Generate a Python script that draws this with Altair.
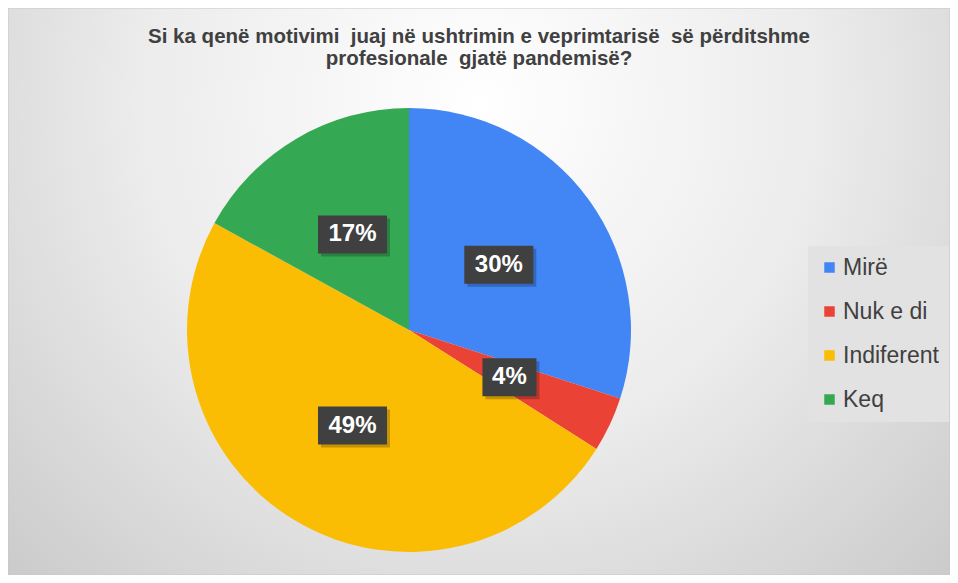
import altair as alt
import pandas as pd

categories = ["Mirë", "Nuk e di", "Indiferent", "Keq"]
values = [30, 4, 49, 17]
labels = ["30%", "4%", "49%", "17%"]
colors = ["#4285F4", "#EA4335", "#FBBC04", "#34A853"]

title_lines = [
    "Si ka qenë motivimi\u00a0 juaj në ushtrimin e veprimtarisë\u00a0 së përditshme",
    "profesionale\u00a0 gjatë pandemisë?",
]

df = pd.DataFrame({
    "cat": categories,
    "value": values,
    "label": labels,
    "order": list(range(len(categories))),
})

W, H = 942, 567
CX, CY, R, LR = 401, 322, 222, 111

bg = alt.Chart(alt.Data(values=[{}])).mark_rect(
    fill=alt.RadialGradient(
        gradient="radial",
        stops=[
            alt.GradientStop(offset=0, color="#ffffff"),
            alt.GradientStop(offset=0.45, color="#ececec"),
            alt.GradientStop(offset=1, color="#c2c2c2"),
        ],
        x1=0.5, y1=0.3, r1=0, x2=0.5, y2=0.3, r2=0.8,
    ),
    stroke="#c8c8c8",
    strokeWidth=1,
).encode(x=alt.value(0), x2=alt.value(W), y=alt.value(0), y2=alt.value(H))

arcs = alt.Chart(df).mark_arc(radius=R).encode(
    theta=alt.Theta("value:Q", stack=True),
    color=alt.Color(
        "cat:N",
        scale=alt.Scale(domain=categories, range=colors),
        sort=categories,
        legend=alt.Legend(
            orient="none", legendX=800, legendY=238, title=None,
            symbolType="square", symbolSize=110, symbolStrokeWidth=0,
            symbolOpacity=1,
            labelFontSize=23, labelFont="Liberation Sans", labelColor="#404040",
            labelOffset=2, fillColor="#e2e2e2", padding=10, rowPadding=20,
        ),
    ),
    order=alt.Order("order:Q"),
    x=alt.value(CX),
    y=alt.value(CY),
)

pos = alt.Chart(df).transform_joinaggregate(
    total="sum(value)"
).transform_window(
    cum="sum(value)", sort=[alt.SortField("order")], frame=[None, 0]
).transform_calculate(
    mid="(datum.cum - datum.value/2) / datum.total * 2 * PI",
    px=f"{CX} + {LR} * sin(datum.mid)",
    py=f"{CY} - {LR} * cos(datum.mid)",
    bw="24 + 15 * length(datum.label)",
).transform_calculate(
    bx1="datum.px - datum.bw/2",
    bx2="datum.px + datum.bw/2",
    by1="datum.py - 19",
    by2="datum.py + 19",
)

shadow = pos.mark_rect(color="#000000", opacity=0.22, xOffset=3, x2Offset=3, yOffset=3, y2Offset=3).encode(
    x=alt.X("bx1:Q", scale=None, axis=None), x2="bx2:Q",
    y=alt.Y("by1:Q", scale=None, axis=None), y2="by2:Q",
)
boxes = pos.mark_rect(color="#404040", opacity=1).encode(
    x=alt.X("bx1:Q", scale=None, axis=None), x2="bx2:Q",
    y=alt.Y("by1:Q", scale=None, axis=None), y2="by2:Q",
)
texts = pos.mark_text(
    font="Liberation Sans", fontWeight="bold", fontSize=24, color="white",
    align="center", baseline="middle",
).encode(
    x=alt.X("px:Q", scale=None, axis=None),
    y=alt.Y("py:Q", scale=None, axis=None),
    text="label:N",
)

chart = alt.layer(bg, arcs, shadow, boxes, texts).properties(
    width=W, height=H,
    autosize=alt.AutoSizeParams(type="none"),
    padding=0,
    title=alt.Title(
        text=title_lines, anchor="middle", frame="group", orient="top",
        font="Liberation Sans", fontSize=20.5, fontWeight="bold", color="#404040",
        baseline="top", offset=0, dy=62, lineHeight=22,
    ),
).configure_view(stroke=None)

chart.save("out.html", embed_options={"renderer": "svg", "actions": False})
